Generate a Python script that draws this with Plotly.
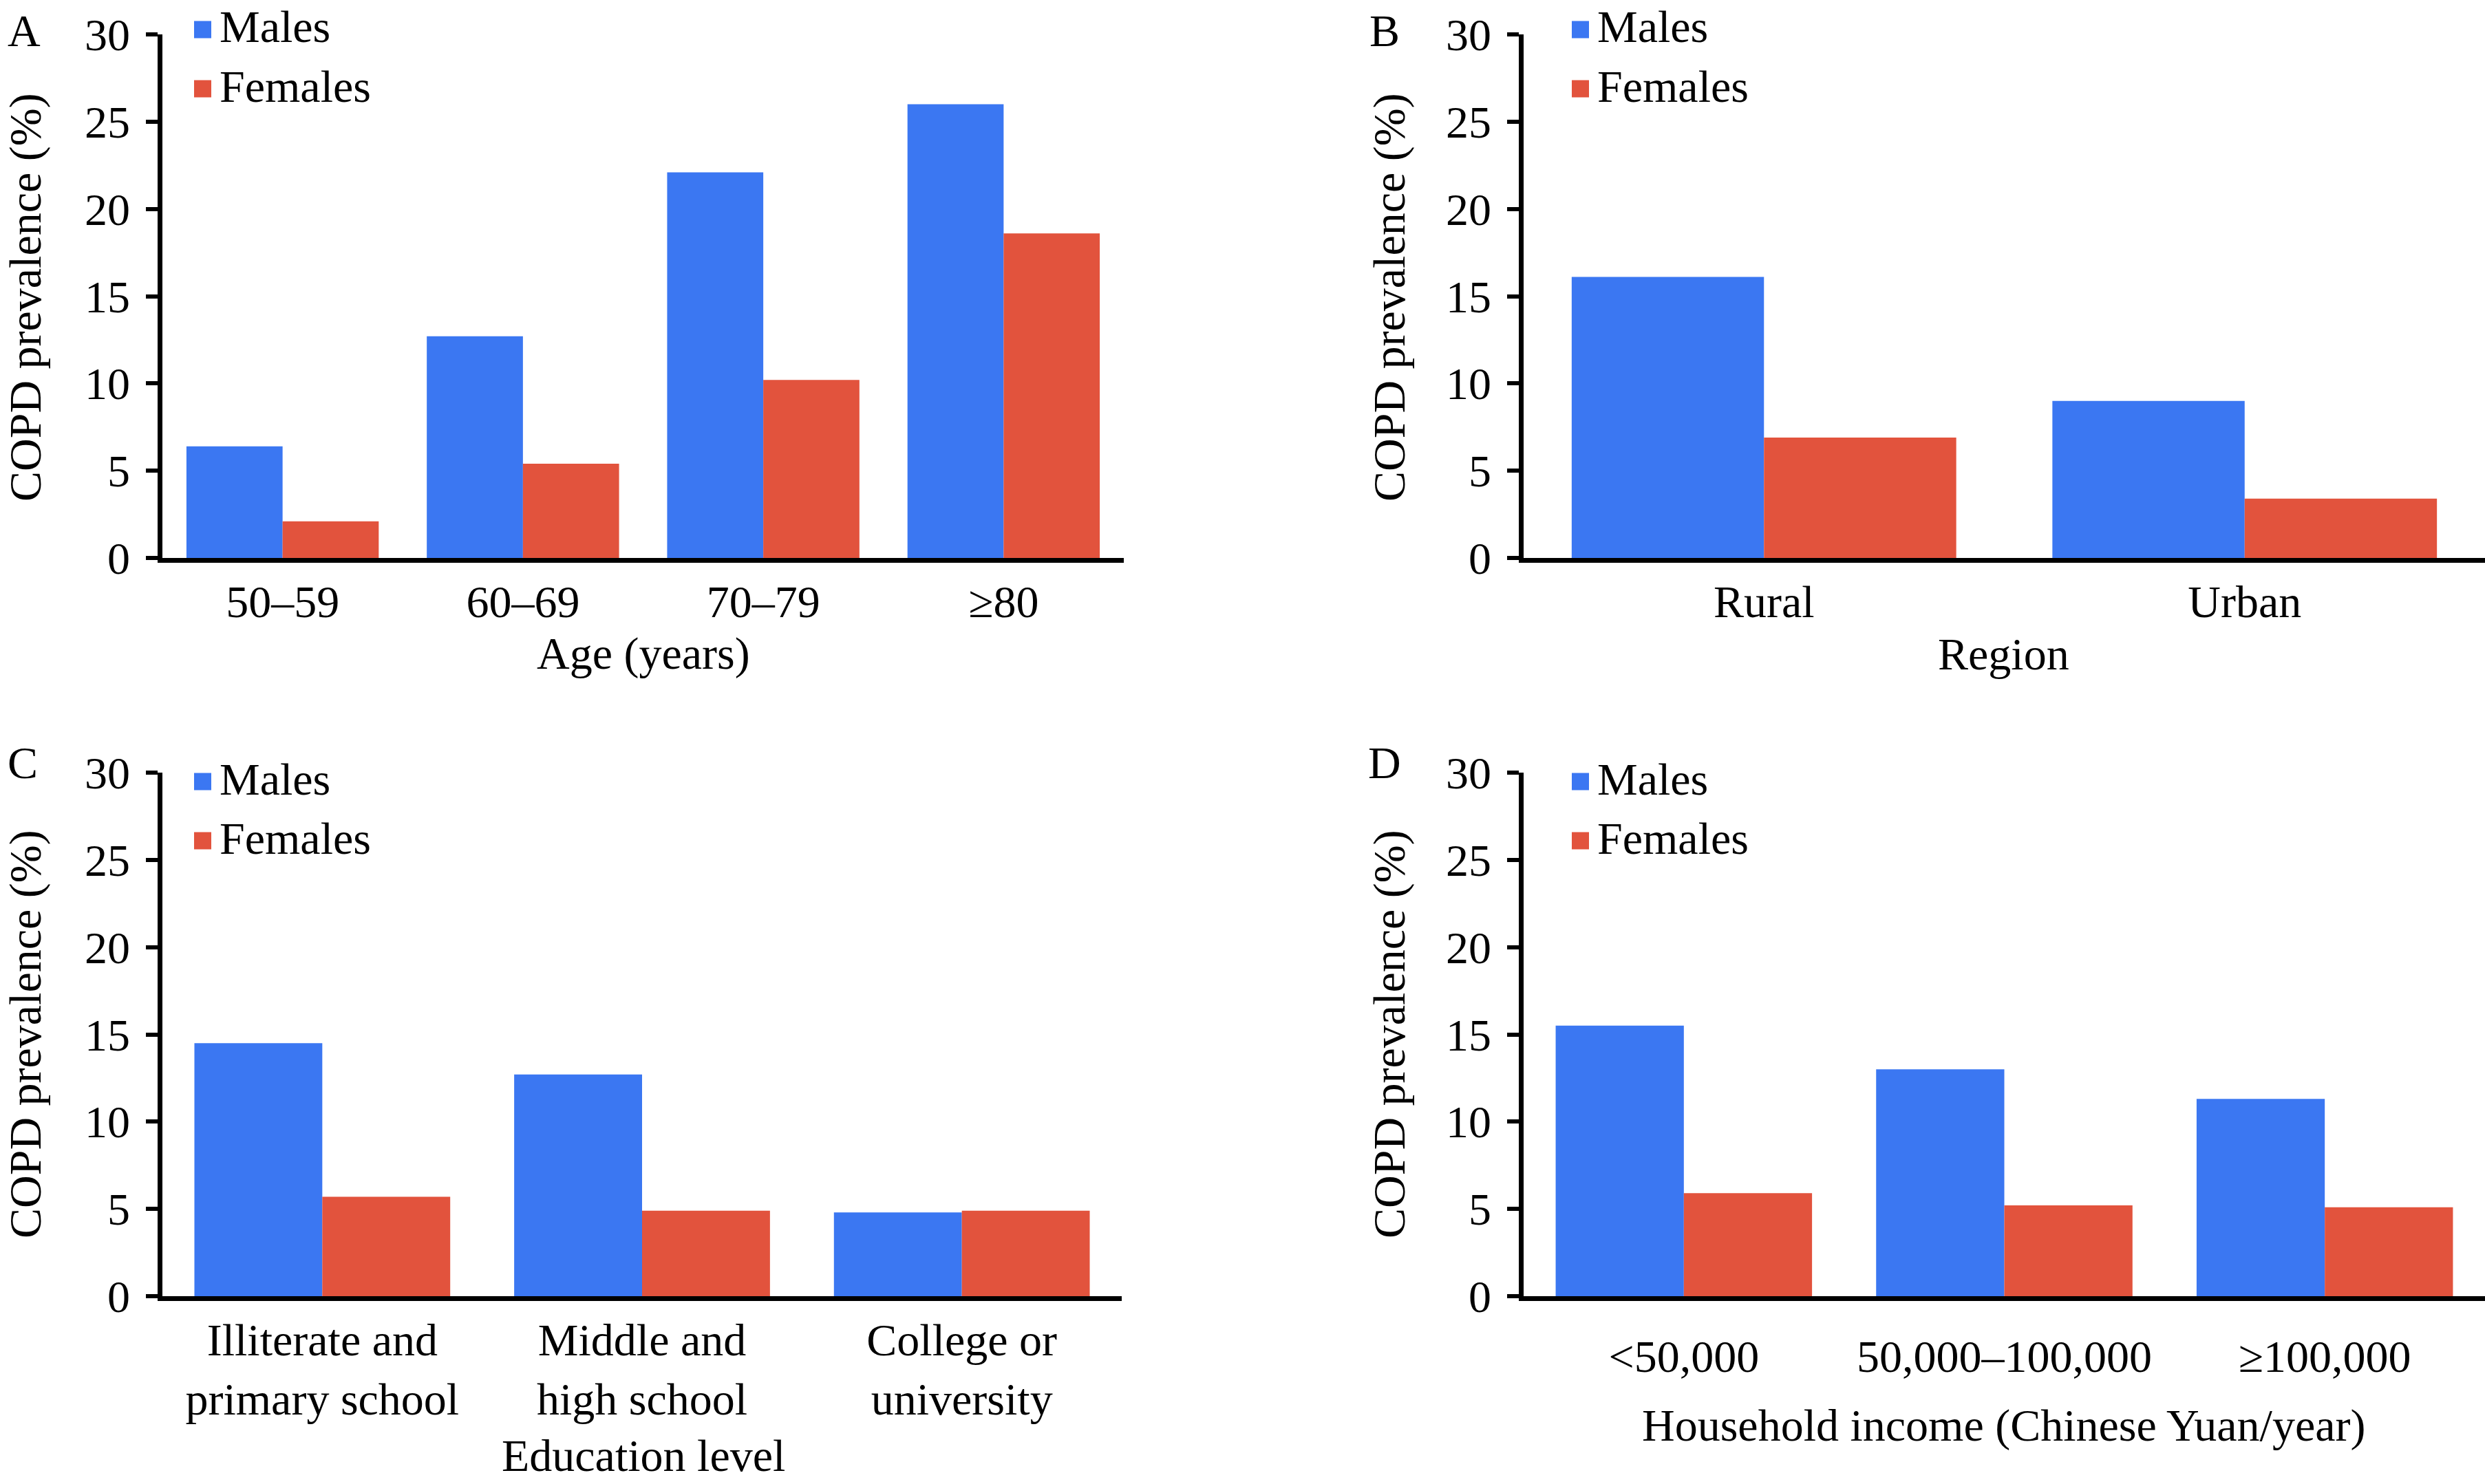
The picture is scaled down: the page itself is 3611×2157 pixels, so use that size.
import plotly.graph_objects as go

# ---------------- data ----------------
age_cats = ["50–59", "60–69", "70–79", "≥80"]
age_males = [6.4, 12.7, 22.1, 26.0]
age_females = [2.1, 5.4, 10.2, 18.6]

region_cats = ["Rural", "Urban"]
region_males = [16.1, 9.0]
region_females = [6.9, 3.4]

edu_cats = ["Illiterate and<br>primary school", "Middle and<br>high school", "College or<br>university"]
edu_males = [14.5, 12.7, 4.8]
edu_females = [5.7, 4.9, 4.9]

inc_cats = ["<50,000", "50,000–100,000", "≥100,000"]
inc_males = [15.5, 13.0, 11.3]
inc_females = [5.9, 5.2, 5.1]

y_ticks = [0, 5, 10, 15, 20, 25, 30]
series_names = ["Males", "Females"]
panel_letters = ["A", "B", "C", "D"]
x_titles = ["Age (years)", "Region", "Education level", "Household income (Chinese Yuan/year)"]
y_title = "COPD prevalence (%)"

# ---------------- styling ----------------
W, H = 3611, 2157
BLUE = "#3B77F2"
RED = "#E2533D"
FONT = "'Liberation Serif', 'Times New Roman', Times, 'DejaVu Serif', serif"
FS = 66

def px_x(v):
    return v / W

def px_y(v):
    return 1 - v / H

panels = [
    dict(cats=age_cats, m=age_males, f=age_females, xd=[236, 1633], yd=[811, 50], xs="x", ys="y", std=0),
    dict(cats=region_cats, m=region_males, f=region_females, xd=[2214, 3611], yd=[811, 50], xs="x2", ys="y2", std=0),
    dict(cats=edu_cats, m=edu_males, f=edu_females, xd=[236, 1630], yd=[1884, 1123], xs="x3", ys="y3", std=0),
    dict(cats=inc_cats, m=inc_males, f=inc_females, xd=[2214, 3611], yd=[1884, 1123], xs="x4", ys="y4", std=24),
]

fig = go.Figure()
layout = {}
for i, p in enumerate(panels):
    fig.add_trace(go.Bar(x=p["cats"], y=p["m"], name=series_names[0], marker=dict(color=BLUE, line=dict(width=0)),
                         xaxis=p["xs"], yaxis=p["ys"], showlegend=False))
    fig.add_trace(go.Bar(x=p["cats"], y=p["f"], name=series_names[1], marker=dict(color=RED, line=dict(width=0)),
                         xaxis=p["xs"], yaxis=p["ys"], showlegend=False))
    suffix = "" if i == 0 else str(i + 1)
    layout["xaxis" + suffix] = dict(
        domain=[px_x(p["xd"][0]), px_x(p["xd"][1])],
        anchor=p["ys"],
        showline=True, linecolor="black", linewidth=6.5,
        ticks="", showgrid=False, zeroline=False,
        tickfont=dict(family=FONT, size=FS, color="black"),
        ticklabelstandoff=p["std"],
        automargin=False,
        categoryorder="array", categoryarray=p["cats"],
        fixedrange=True,
    )
    layout["yaxis" + suffix] = dict(
        domain=[px_y(p["yd"][0]), px_y(p["yd"][1])],
        anchor=p["xs"],
        range=[0, 30],
        tickvals=y_ticks,
        showline=True, linecolor="black", linewidth=6.5,
        ticks="outside", ticklen=17, tickwidth=6, tickcolor="black",
        ticklabelstandoff=10,
        showgrid=False, zeroline=False,
        tickfont=dict(family=FONT, size=FS, color="black"),
        automargin=False,
        fixedrange=True,
    )

annotations = []
shapes = []
# panel letters
letter_pos = [(35, 45), (2012, 45), (33, 1108), (2012, 1108)]
for L, (x, y) in zip(panel_letters, letter_pos):
    annotations.append(dict(text=L, x=px_x(x), y=px_y(y), xref="paper", yref="paper", showarrow=False,
                            xanchor="center", yanchor="middle", borderpad=0,
                            font=dict(family=FONT, size=FS, color="black")))
# y titles
ytitle_pos = [(37, 432), (2019, 432), (37, 1503), (2019, 1503)]
for (x, y) in ytitle_pos:
    annotations.append(dict(text=y_title, x=px_x(x), y=px_y(y), xref="paper", yref="paper", showarrow=False,
                            textangle=-90, xanchor="center", yanchor="middle",
                            font=dict(family=FONT, size=FS, color="black")))
# x titles
xtitle_pos = [(935, 950), (2911, 950), (935, 2115), (2911, 2072)]
for t, (x, y) in zip(x_titles, xtitle_pos):
    annotations.append(dict(text=t, x=px_x(x), y=px_y(y), xref="paper", yref="paper", showarrow=False,
                            xanchor="center", yanchor="middle", font=dict(family=FONT, size=FS, color="black")))
# legends (manual swatches + labels)
legend_pos = [(282, 43, 129), (2284, 43, 129), (282, 1136, 1222), (2284, 1136, 1222)]
for (x0, ym, yf) in legend_pos:
    for name, col, yc in [(series_names[0], BLUE, ym), (series_names[1], RED, yf)]:
        shapes.append(dict(type="rect", xref="paper", yref="paper",
                           x0=px_x(x0), x1=px_x(x0 + 25), y0=px_y(yc + 12.5), y1=px_y(yc - 12.5),
                           fillcolor=col, line=dict(width=0)))
        annotations.append(dict(text=name, x=px_x(x0 + 36), y=px_y(yc - 4), xref="paper", yref="paper",
                                showarrow=False, xanchor="left", yanchor="middle", borderpad=0,
                                font=dict(family=FONT, size=FS, color="black")))

fig.update_layout(
    **layout,
    width=W, height=H,
    margin=dict(l=0, r=0, t=0, b=0),
    paper_bgcolor="white", plot_bgcolor="white",
    barmode="group", bargap=0.2, bargroupgap=0,
    showlegend=False,
    annotations=annotations, shapes=shapes,
    font=dict(family=FONT, size=FS, color="black"),
)

fig.write_html("out.html", config={"displayModeBar": False},
               post_script="document.body.style.margin='0';document.body.style.overflow='hidden';")
